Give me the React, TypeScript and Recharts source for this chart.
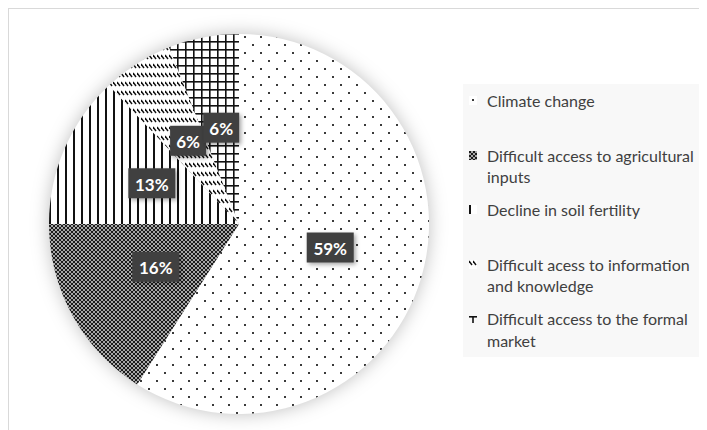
import React from 'react';
import { PieChart, Pie, Cell, Legend } from 'recharts';

// Main constraints identified by respondents (share of answers, %)
const categories = [
  'Climate change',
  'Difficult access to agricultural inputs',
  'Decline in soil fertility',
  'Difficult acess to information and knowledge',
  'Difficult access to the formal market',
];
const shares = [59, 16, 13, 6, 6];
const patternIds = ['pat-dots', 'pat-checker', 'pat-vlines', 'pat-dashes', 'pat-grid'];

const data = categories.map((name, i) => ({ name, value: shares[i] }));

const RADIAN = Math.PI / 180;
const FONT = 'Lato, "Open Sans", sans-serif';

// Black-and-white fills, Excel style
const Patterns = () => (
  <svg width={0} height={0} style={{ position: 'absolute' }}>
    <defs>
      <pattern id="pat-dots" patternUnits="userSpaceOnUse" width={16} height={16}>
        <rect width={16} height={16} fill="#fff" />
        <rect x={3} y={3} width={2} height={2} fill="#3a3a3a" />
        <rect x={11} y={11} width={2} height={2} fill="#3a3a3a" />
      </pattern>
      <pattern id="pat-checker" patternUnits="userSpaceOnUse" width={4} height={4}>
        <rect width={4} height={4} fill="#a8a8a8" />
        <rect x={0} y={0} width={2} height={2} fill="#1c1c1c" />
        <rect x={2} y={2} width={2} height={2} fill="#1c1c1c" />
      </pattern>
      <pattern id="pat-vlines" patternUnits="userSpaceOnUse" width={8} height={8}>
        <rect width={8} height={8} fill="#fff" />
        <rect x={0} y={0} width={2} height={8} fill="#111" />
      </pattern>
      <pattern id="pat-dashes" patternUnits="userSpaceOnUse" width={4} height={9}>
        <rect width={4} height={9} fill="#fff" />
        <line x1={0} y1={1} x2={3} y2={5} stroke="#111" strokeWidth={1.4} />
      </pattern>
      <pattern id="pat-grid" patternUnits="userSpaceOnUse" width={8} height={8}>
        <rect width={8} height={8} fill="#fff" />
        <rect x={0} y={0} width={8} height={1.6} fill="#111" />
        <rect x={0} y={0} width={1.6} height={8} fill="#111" />
      </pattern>
      {/* legend swatch for the market: a small cross */}
      <pattern id="pat-grid-icon" patternUnits="userSpaceOnUse" width={8} height={9}>
        <rect width={8} height={9} fill="#f8f8f8" />
        <rect x={0} y={2} width={8} height={1.6} fill="#111" />
        <rect x={3.2} y={2} width={1.6} height={7} fill="#111" />
      </pattern>
      <filter id="label-shadow" x="-30%" y="-30%" width="160%" height="160%">
        <feDropShadow dx={2} dy={2} stdDeviation={2} floodColor="#000" floodOpacity={0.35} />
      </filter>
    </defs>
  </svg>
);

const renderLabel = (props: any) => {
  const { cx, cy, midAngle, outerRadius, value } = props;
  const r = outerRadius * 0.5;
  const x = cx + r * Math.cos(-midAngle * RADIAN);
  const y = cy + r * Math.sin(-midAngle * RADIAN) - 3;
  const text = `${value}%`;
  const w = text.length * 11 + 14;
  const h = 30;
  return (
    <g>
      <rect x={x - w / 2} y={y - h / 2} width={w} height={h} fill="#404040" filter="url(#label-shadow)" />
      <text
        x={x}
        y={y + 1}
        fill="#fff"
        textAnchor="middle"
        dominantBaseline="central"
        fontSize={17}
        fontWeight={700}
        fontFamily={FONT}
      >
        {text}
      </text>
    </g>
  );
};

// keep the legend in data order (not alphabetical)
const LegendContent = ({ payload }: any) => {
  const items = [...(payload || [])].sort(
    (a: any, b: any) => categories.indexOf(a.value) - categories.indexOf(b.value)
  );
  return (
    <div style={{ background: '#f8f8f8', width: '100%', height: '100%' }}>
      {items.map((entry: any) => {
        const idx = categories.indexOf(entry.value);
        const swatch = patternIds[idx] === 'pat-grid' ? 'pat-grid-icon' : patternIds[idx];
        return (
          <div
            key={`legend-${idx}`}
            style={{ height: 54.6, display: 'flex', alignItems: 'flex-start', paddingTop: 6, boxSizing: 'border-box' }}
          >
            <svg width={8} height={9} style={{ flex: 'none', margin: '6px 10px 0 6px' }}>
              <rect width={8} height={9} fill={`url(#${swatch})`} />
            </svg>
            <span style={{ width: 218, lineHeight: '21.5px', fontSize: 16, color: '#404040', fontFamily: FONT }}>
              {entry.value}
            </span>
          </div>
        );
      })}
    </div>
  );
};

export default function App() {
  return (
    <div
      style={{
        width: 698,
        height: 421,
        borderLeft: '1px solid #d9d9d9',
        borderTop: '1px solid #d9d9d9',
        background: '#fff',
        position: 'relative',
      }}
    >
      <style>{`.recharts-pie { filter: drop-shadow(0px 0px 9px rgba(0,0,0,0.25)); }`}</style>
      <Patterns />
      <PieChart width={698} height={421}>
        <Pie
          data={data}
          dataKey="value"
          nameKey="name"
          cx={225}
          cy={210}
          outerRadius={190}
          startAngle={90}
          endAngle={-270}
          stroke="none"
          label={renderLabel}
          labelLine={false}
          isAnimationActive={false}
        >
          {data.map((entry, i) => (
            <Cell key={`cell-${i}`} fill={`url(#${patternIds[i]})`} />
          ))}
        </Pie>
        <Legend
          content={<LegendContent />}
          wrapperStyle={{ left: 454, top: 75, width: 244, height: 273 }}
        />
      </PieChart>
    </div>
  );
}
